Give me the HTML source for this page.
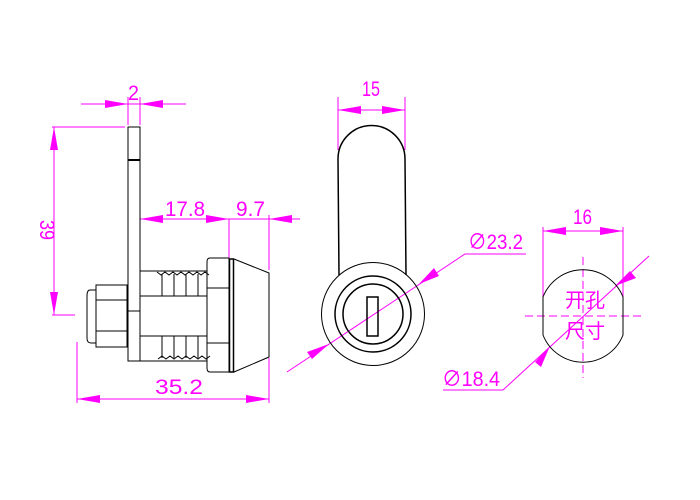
<!DOCTYPE html>
<html><head><meta charset="utf-8"><style>
html,body{margin:0;padding:0;background:#fff;}
svg{display:block;}
text{font-family:"Liberation Sans","Noto Sans CJK SC",sans-serif;fill:#ff00ff;}
</style></head><body>
<svg width="700" height="500" viewBox="0 0 700 500" xmlns="http://www.w3.org/2000/svg">
<g fill="none" stroke="#ff00ff" stroke-width="1">
<line x1="81" y1="104" x2="186" y2="104"/>
<line x1="128" y1="97" x2="128" y2="125"/>
<line x1="140" y1="97" x2="140" y2="125"/>
<line x1="54" y1="127" x2="54" y2="315"/>
<line x1="52" y1="127" x2="125" y2="127"/>
<line x1="52" y1="315" x2="75" y2="315"/>
<line x1="140" y1="219" x2="300" y2="219"/>
<line x1="140" y1="215" x2="140" y2="270"/>
<line x1="229" y1="219" x2="229" y2="258"/>
<line x1="269" y1="215" x2="269" y2="270"/>
<line x1="77" y1="399" x2="269" y2="399"/>
<line x1="77" y1="342" x2="77" y2="403"/>
<line x1="269" y1="358" x2="269" y2="403"/>
<line x1="338" y1="110" x2="405" y2="110"/>
<line x1="338" y1="97" x2="338" y2="150"/>
<line x1="405" y1="97" x2="405" y2="150"/>
<polyline points="287,372 465,254 526,254"/>
<line x1="543" y1="231" x2="623" y2="231"/>
<line x1="543" y1="227" x2="543" y2="300"/>
<line x1="623" y1="227" x2="623" y2="300"/>
<line x1="583" y1="257" x2="583" y2="378" stroke-dasharray="8,4"/>
<line x1="525" y1="316" x2="645" y2="316" stroke-dasharray="8,4"/>
<polyline points="649,256 503,390 443,390"/>
</g>
<g fill="#ff00ff">
<polygon points="128,104 105,100 105,108"/>
<polygon points="140,104 163,100 163,108"/>
<polygon points="54,127 50,150 58,150"/>
<polygon points="54,315 50,292 58,292"/>
<polygon points="140,219 163,215 163,223"/>
<polygon points="229,219 206,215 206,223"/>
<polygon points="269,219 292,215 292,223"/>
<polygon points="77,399 100,395 100,403"/>
<polygon points="269,399 246,395 246,403"/>
<polygon points="338,110 361,106 361,114"/>
<polygon points="405,110 382,106 382,114"/>
<polygon points="419,284 434,268 439,276"/>
<polygon points="329,344 307,352 312,359"/>
<polygon points="543,231 566,227 566,235"/>
<polygon points="623,231 600,227 600,235"/>
<polygon points="615,286 630,271 636,278"/>
<polygon points="550,346 535,362 541,367"/>
</g>
<g font-size="21">
<text x="128" y="100" textLength="11" lengthAdjust="spacingAndGlyphs">2</text>
<text x="0" y="0" transform="translate(40,220) rotate(90)" textLength="20" lengthAdjust="spacingAndGlyphs">39</text>
<text x="165" y="216" textLength="40" lengthAdjust="spacingAndGlyphs">17.8</text>
<text x="236" y="216" textLength="29" lengthAdjust="spacingAndGlyphs">9.7</text>
<text x="155" y="394" textLength="48" lengthAdjust="spacingAndGlyphs">35.2</text>
<text x="362" y="96" textLength="18" lengthAdjust="spacingAndGlyphs">15</text>
<text x="468" y="249" textLength="55" lengthAdjust="spacingAndGlyphs">∅23.2</text>
<text x="573" y="224" textLength="19" lengthAdjust="spacingAndGlyphs">16</text>
<text x="442" y="386" textLength="58" lengthAdjust="spacingAndGlyphs">∅18.4</text>
</g>
<g font-size="20">
<text x="565" y="307">开孔</text>
<text x="565" y="338">尺寸</text>
</g>
<g fill="none" stroke="#000" stroke-width="1">
<rect x="128" y="127" width="12" height="234"/>
<line x1="128" y1="160" x2="140" y2="160" stroke-width="2"/>
<line x1="128" y1="311" x2="140" y2="311"/>
<path d="M96,290 L90,290 Q87,290 87,296 L87,338 Q87,343 91,343 L96,343"/>
<rect x="96" y="285" width="31" height="62"/>
<line x1="96" y1="300" x2="127" y2="300"/>
<line x1="96" y1="331" x2="127" y2="331"/>
<rect x="140" y="271" width="67" height="90"/>
<line x1="140" y1="296" x2="207" y2="296"/>
<line x1="140" y1="336" x2="207" y2="336"/>
<path d="M157,272 l4,3 4,-3 4,3 4,-3 4,3 4,-3 4,3 4,-3 4,3 4,-3 4,3 4,-3 4,3"/>
<path d="M158,359 l4,-3 4,3 4,-3 4,3 4,-3 4,3 4,-3 4,3 4,-3 4,3 4,-3 4,3 4,-3"/>
<line x1="162" y1="274" x2="162" y2="296"/><line x1="174" y1="274" x2="174" y2="296"/><line x1="186" y1="274" x2="186" y2="296"/><line x1="198" y1="274" x2="198" y2="296"/>
<line x1="162" y1="336" x2="162" y2="358"/><line x1="174" y1="336" x2="174" y2="358"/><line x1="186" y1="336" x2="186" y2="358"/><line x1="198" y1="336" x2="198" y2="358"/>
<path d="M210,258 L229,258 L229,372 L210,372 Q207,372 207,368 L207,262 Q207,258 210,258Z"/>
<line x1="207" y1="288" x2="229" y2="288"/>
<line x1="207" y1="343" x2="229" y2="343"/>
<rect x="229.5" y="259" width="4" height="113" stroke-width="1.5"/>
<path d="M234,259 L269,273 L269,357 L234,372"/>
<path d="M339,275 L338,159 A33.5,33.5 0 0 1 405,159 L406,275" stroke-width="1.5"/>
<circle cx="373" cy="314" r="51.5"/>
<circle cx="373" cy="314" r="38" stroke-width="1.5"/>
<circle cx="373" cy="314" r="30" stroke-width="1.5"/>
<rect x="367" y="297" width="11" height="39" stroke-width="1.5"/>
<path d="M543,297 A43,43 0 0 1 623,297 L623,335 A43,43 0 0 1 543,335 Z"/>
</g>
</svg>
</body></html>
